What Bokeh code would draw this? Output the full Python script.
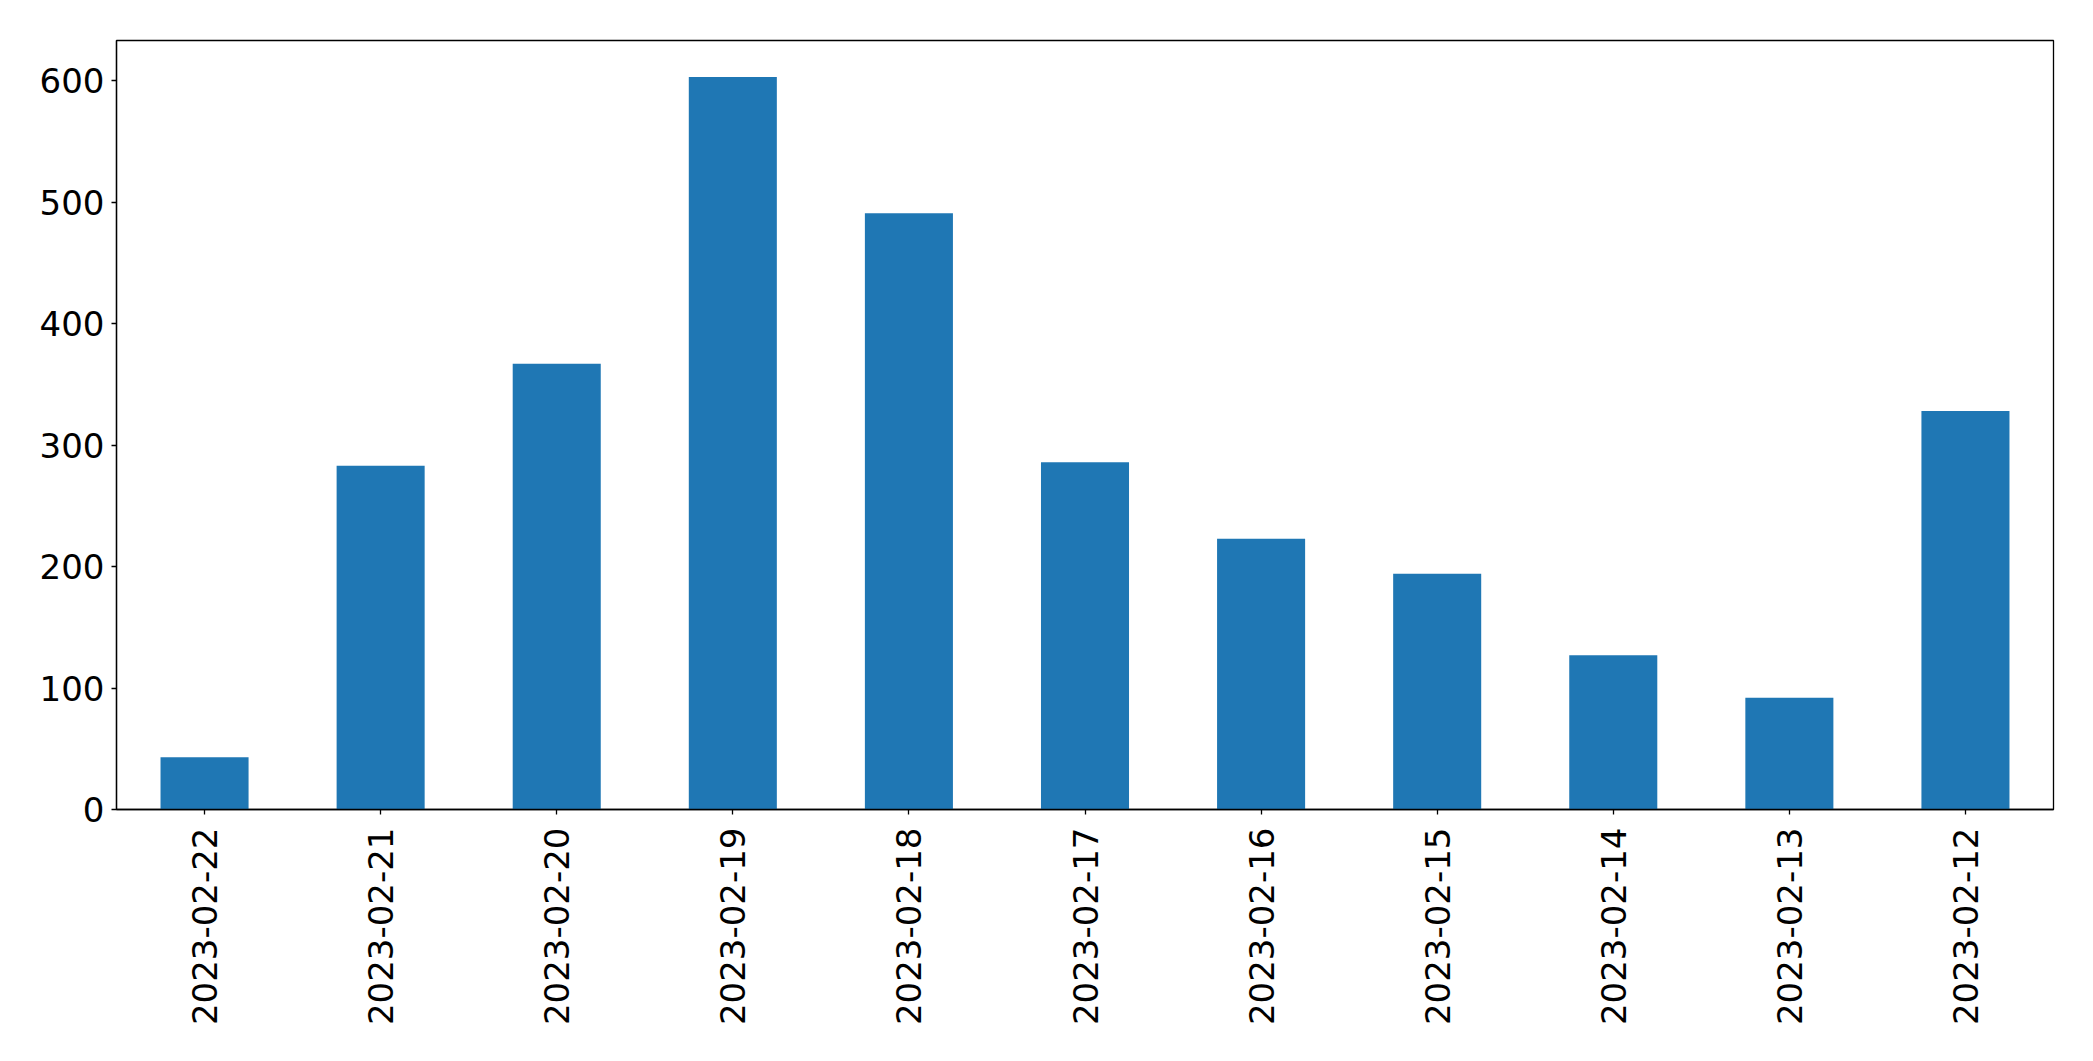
import math
from bokeh.plotting import figure
from bokeh.models import ColumnDataSource, FactorRange, Range1d, FixedTicker
from bokeh.embed import file_html
from bokeh.resources import INLINE

dates = ["2023-02-22", "2023-02-21", "2023-02-20", "2023-02-19", "2023-02-18",
         "2023-02-17", "2023-02-16", "2023-02-15", "2023-02-14", "2023-02-13",
         "2023-02-12"]
counts = [43, 283, 367, 603, 491, 286, 223, 194, 127, 92, 328]
y_ticks = [0, 100, 200, 300, 400, 500, 600]

source = ColumnDataSource(data=dict(date=dates, count=counts))

p = figure(
    width=2093, height=1061,
    x_range=FactorRange(*dates),
    y_range=Range1d(0, max(counts) * 1.05),
    output_backend="svg", toolbar_location=None, tools="",
    min_border_left=116, min_border_right=40,
    min_border_top=40, min_border_bottom=252,
)

p.vbar(x="date", top="count", width=0.5, source=source,
       fill_color="#1f77b4", line_color=None)

p.xgrid.visible = False
p.ygrid.visible = False
p.outline_line_color = "black"
p.outline_line_width = 1.3
p.background_fill_color = "white"
p.border_fill_color = "white"

for ax in (p.xaxis[0], p.yaxis[0]):
    ax.axis_line_color = "black"
    ax.axis_line_width = 1.3
    ax.major_tick_line_color = "black"
    ax.major_tick_line_width = 1.3
    ax.major_tick_out = 5
    ax.major_tick_in = 0
    ax.minor_tick_line_color = None
    ax.major_label_text_font = "DejaVu Sans"
    ax.major_label_text_font_size = "34px"
    ax.major_label_text_color = "black"

p.yaxis.ticker = FixedTicker(ticks=y_ticks)
p.yaxis.major_label_standoff = 7
p.xaxis.major_label_orientation = math.pi / 2
p.xaxis.major_label_standoff = 13
p.xaxis.group_text_font_size = "0px"

open("out.html", "w").write(file_html(p, INLINE))
